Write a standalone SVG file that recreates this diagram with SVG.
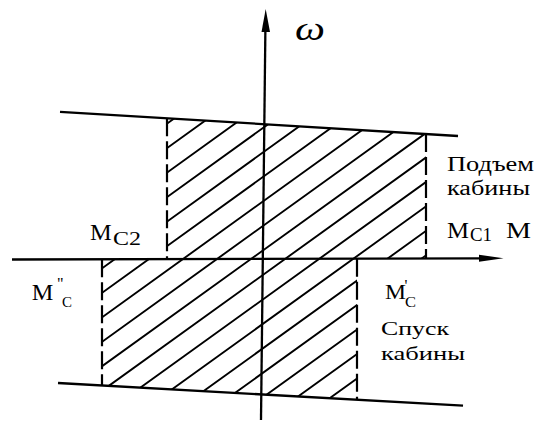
<svg xmlns="http://www.w3.org/2000/svg" width="536" height="423" viewBox="0 0 536 423">
<style>
.ax{stroke:#000;stroke-width:2.3;fill:none}
.bd{stroke:#000;stroke-width:2.2;fill:none;stroke-dasharray:18 5}
.ht{stroke:#000;stroke-width:1.9;fill:none}
.t{font-family:"Liberation Serif","Times New Roman",serif;fill:#000}
</style>
<defs>
<clipPath id="zone">
<polygon points="167,118.3 426,134.1 426,258.6 167,258.9"/>
<polygon points="102,259.3 357,258.8 357,399.3 102,385.5"/>
</clipPath>
</defs>
<rect width="536" height="423" fill="#fff"/>
<g id="hatching" clip-path="url(#zone)">
<path class="ht" d="M-230.7,410L192.9,105M-196.7,410L226.9,105M-162.7,410L260.9,105M-128.7,410L294.9,105M-94.7,410L328.9,105M-60.7,410L362.9,105M-26.7,410L396.9,105M7.3,410L430.9,105M41.3,410L464.9,105M75.3,410L498.9,105M109.3,410L532.9,105M143.3,410L566.9,105M177.3,410L600.9,105M211.3,410L634.9,105M245.3,410L668.9,105M279.3,410L702.9,105M313.3,410L736.9,105"/>
</g>
<g id="boundaries">
<line class="ax" x1="60" y1="111.8" x2="458" y2="136"/>
<line class="ax" x1="58" y1="383" x2="463" y2="405.7"/>
<line class="bd" x1="167" y1="118.3" x2="167" y2="259"/>
<line class="bd" x1="426" y1="134.1" x2="426" y2="258.6"/>
<line class="bd" x1="102" y1="259.3" x2="102" y2="385.5"/>
<line class="bd" x1="357" y1="258.8" x2="357" y2="399.3"/>
</g>
<g id="axes">
<line class="ax" x1="12" y1="259.5" x2="482" y2="258.4"/>
<polygon points="503.5,258.3 479,254.8 479,261.8" fill="#000"/>
<line class="ax" x1="265.4" y1="28" x2="261" y2="420"/>
<polygon points="265.7,9 270,32 261.5,32" fill="#000"/>
</g>
<g id="labels">
<text class="t" x="295" y="39.5" font-size="34" font-style="italic" textLength="30" lengthAdjust="spacingAndGlyphs">ω</text>
<text class="t" x="447" y="170.7" font-size="20" textLength="87" lengthAdjust="spacingAndGlyphs">Подъем</text>
<text class="t" x="447" y="195" font-size="20" textLength="83" lengthAdjust="spacingAndGlyphs">кабины</text>
<text class="t" x="447" y="238.3" font-size="24" textLength="22" lengthAdjust="spacingAndGlyphs">M</text>
<text class="t" x="470" y="241" font-size="19" textLength="22" lengthAdjust="spacingAndGlyphs">C1</text>
<text class="t" x="506" y="238.3" font-size="24" textLength="25" lengthAdjust="spacingAndGlyphs">M</text>
<text class="t" x="90" y="240" font-size="24" textLength="21.7" lengthAdjust="spacingAndGlyphs">M</text>
<text class="t" x="113" y="245" font-size="19" textLength="28" lengthAdjust="spacingAndGlyphs">C2</text>
<text class="t" x="31.7" y="300" font-size="24" textLength="21.6" lengthAdjust="spacingAndGlyphs">M</text>
<text class="t" x="57" y="289" font-size="16">"</text>
<text class="t" x="62" y="306.7" font-size="15" textLength="10" lengthAdjust="spacingAndGlyphs">C</text>
<text class="t" x="385" y="299" font-size="21" textLength="21" lengthAdjust="spacingAndGlyphs">M</text>
<text class="t" x="404.5" y="291" font-size="16">'</text>
<text class="t" x="405" y="306.7" font-size="15" textLength="11" lengthAdjust="spacingAndGlyphs">C</text>
<text class="t" x="381" y="335" font-size="19" textLength="68" lengthAdjust="spacingAndGlyphs">Спуск</text>
<text class="t" x="381" y="360" font-size="19" textLength="84" lengthAdjust="spacingAndGlyphs">кабины</text>
</g>
</svg>
